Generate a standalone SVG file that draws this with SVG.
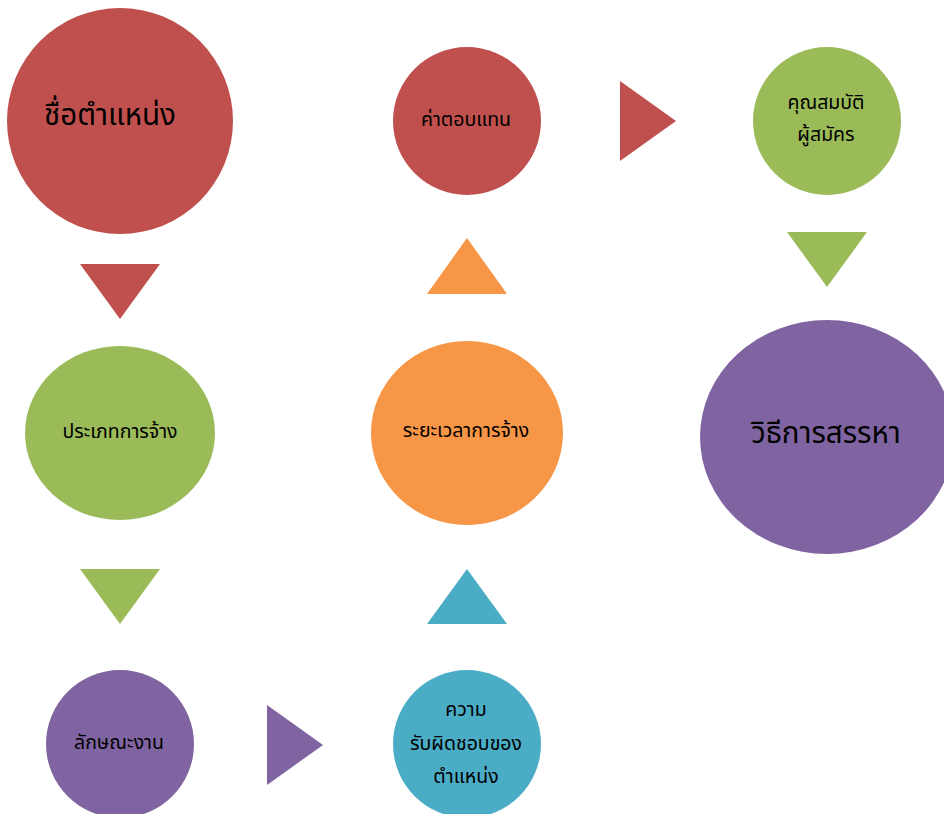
<svg xmlns="http://www.w3.org/2000/svg" width="944" height="814" viewBox="0 0 944 814">
<style>
text{font-family:"Noto Sans Thai","Noto Sans","DejaVu Sans",sans-serif;fill:#000;text-anchor:middle;dominant-baseline:central}
.s{font-size:19.5px}
.b{font-size:29.5px}
.red{fill:#C0504D}.grn{fill:#9BBB59}.pur{fill:#8064A2}.teal{fill:#4BACC6}.org{fill:#F79646}
</style>
<rect width="944" height="814" fill="#fff"/>
<g id="connectors">
<polygon class="red" points="80,264 160,264 120,319"/>
<polygon class="grn" points="80,569 160,569 120,624"/>
<polygon class="pur" points="267,705 323,745 267,785"/>
<polygon class="teal" points="427,624 507,624 467,569"/>
<polygon class="org" points="427,294 507,294 467,238"/>
<polygon class="red" points="620,81 676,121 620,161"/>
<polygon class="grn" points="787,232 867,232 827,287"/>
</g>
<g id="n1"><circle class="red" cx="120" cy="121" r="113"/><text class="b" x="110" y="116">ชื่อตำแหน่ง</text></g>
<g id="n2"><ellipse class="grn" cx="120" cy="433" rx="95" ry="87"/><text class="s" x="120" y="432">ประเภทการจ้าง</text></g>
<g id="n3"><circle class="pur" cx="120" cy="744" r="74"/><text class="s" x="119" y="743">ลักษณะงาน</text></g>
<g id="n4"><circle class="teal" cx="467" cy="744" r="74"/><text class="s" x="466" y="710">ความ</text><text class="s" x="466" y="744">รับผิดชอบของ</text><text class="s" x="466" y="777">ตำแหน่ง</text></g>
<g id="n5"><ellipse class="org" cx="467" cy="433" rx="96" ry="92"/><text class="s" x="466" y="431">ระยะเวลาการจ้าง</text></g>
<g id="n6"><circle class="red" cx="467" cy="121" r="74"/><text class="s" x="466" y="120">ค่าตอบแทน</text></g>
<g id="n7"><circle class="grn" cx="827" cy="121" r="74"/><text class="s" x="826" y="103">คุณสมบัติ</text><text class="s" x="826" y="135">ผู้สมัคร</text></g>
<g id="n8"><ellipse class="pur" cx="827" cy="437" rx="127" ry="117"/><text class="b" x="826" y="434">วิธีการสรรหา</text></g>
</svg>
